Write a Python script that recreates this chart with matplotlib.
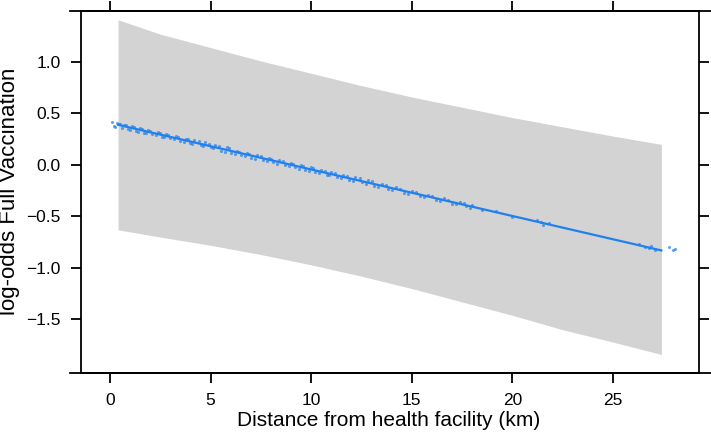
import matplotlib
matplotlib.use('Agg')
import matplotlib.pyplot as plt
from matplotlib.lines import Line2D

# effect of distance on log-odds of full vaccination
# fitted line
fit_x = [0.4, 27.4]
fit_y = [0.39, -0.83]

# confidence band
band_x = [0.4, 2.5, 5.0, 7.5, 10.0, 12.5, 15.0, 17.5, 20.0, 22.5, 25.0, 27.4]
band_upper = [1.41, 1.27, 1.14, 1.01, 0.89, 0.77, 0.66, 0.56, 0.46, 0.37, 0.28, 0.20]
band_lower = [-0.63, -0.70, -0.78, -0.87, -0.97, -1.08, -1.20, -1.33, -1.46,
              -1.60, -1.72, -1.84]

# partial residual points around the line
pt_x = [0.1, 0.2, 0.35, 0.5, 0.6, 0.8, 0.9, 1.1, 1.3, 1.5, 1.7, 1.9, 2.1, 2.4,
        2.6, 2.8, 3.0, 3.3, 3.5, 3.8, 4.0, 4.2, 4.5, 4.7, 5.0, 5.2, 5.5, 5.8,
        6.0, 6.3, 6.5, 6.8, 7.0, 7.3, 7.6, 7.9, 8.1, 8.4, 8.7, 9.0, 9.2, 9.5,
        9.7, 10.0, 10.2, 10.5, 10.8, 11.0, 11.3, 11.6, 11.9, 12.2, 12.5, 12.8,
        13.1, 13.5, 13.8, 14.2, 14.6, 15.0, 15.4, 15.8, 16.2, 16.6, 17.0, 17.4,
        17.7, 18.0, 18.5, 19.2, 20.0, 21.2, 21.5, 21.8, 26.3, 26.6, 26.9, 27.1,
        27.8, 28.1,
        0.25, 0.45, 0.7, 1.0, 1.2, 1.4, 1.6, 1.8, 2.0, 2.3, 2.5, 2.7, 2.9, 3.2,
        3.4, 3.7, 3.9, 4.1, 4.4, 4.6, 4.9, 5.1, 5.4, 5.7, 5.9, 6.2, 6.4, 6.7,
        6.9, 7.2, 7.5, 7.8, 8.0, 8.3, 8.6, 8.9, 9.1, 9.4, 9.6, 9.9, 10.1, 10.4,
        10.7, 10.9, 11.2, 11.5, 11.8, 12.1, 12.4, 12.7, 13.0, 13.3, 13.7, 14.0,
        14.4, 14.8, 15.2, 15.6, 16.0, 16.4, 16.8, 17.2, 17.6, 17.9, 21.4, 26.8,
        28.0]
pt_y = [0.42, 0.38, 0.41, 0.40, 0.36, 0.39, 0.35, 0.38, 0.33, 0.36, 0.31, 0.34,
        0.30, 0.32, 0.27, 0.30, 0.26, 0.28, 0.23, 0.25, 0.21, 0.24, 0.19, 0.22,
        0.17, 0.19, 0.14, 0.17, 0.12, 0.14, 0.10, 0.12, 0.07, 0.10, 0.05, 0.07,
        0.03, 0.05, 0.00, 0.02, -0.02, 0.00, -0.05, -0.02, -0.07, -0.05, -0.10,
        -0.07, -0.12, -0.10, -0.15, -0.12, -0.17, -0.15, -0.20, -0.18, -0.23,
        -0.21, -0.27, -0.25, -0.30, -0.29, -0.34, -0.32, -0.38, -0.36, -0.40,
        -0.39, -0.44, -0.45, -0.51, -0.53, -0.58, -0.56, -0.77, -0.80, -0.79,
        -0.83, -0.80, -0.82,
        0.37, 0.40, 0.39, 0.34, 0.37, 0.32, 0.35, 0.31, 0.33, 0.29, 0.31, 0.27,
        0.29, 0.25, 0.27, 0.22, 0.25, 0.20, 0.23, 0.18, 0.20, 0.16, 0.18, 0.13,
        0.16, 0.11, 0.13, 0.09, 0.11, 0.06, 0.09, 0.04, 0.06, 0.01, 0.04, -0.01,
        0.01, -0.04, -0.01, -0.06, -0.03, -0.08, -0.06, -0.10, -0.08, -0.13,
        -0.11, -0.16, -0.13, -0.18, -0.16, -0.21, -0.19, -0.24, -0.23, -0.28,
        -0.26, -0.31, -0.30, -0.35, -0.34, -0.38, -0.37, -0.42, -0.55, -0.81,
        -0.83]

xticks = [0, 5, 10, 15, 20, 25]
yticks = [-1.5, -1.0, -0.5, 0.0, 0.5, 1.0]

plt.close('all')
plt.rcParams.update({'font.family': ['Liberation Sans', 'DejaVu Sans']})

W, H = 711, 437
fig = plt.figure(figsize=(W/100, H/100), dpi=100)

#AXES BOX IN PIXELS: left 81, right 699, top 11, bottom 373
ax = fig.add_axes([81/W, 1-373/H, (699-81)/W, (373-11)/H])

blue = '#1f80ee'
ax.fill_between(band_x, band_lower, band_upper, color='#d3d3d3', lw=0, zorder=1)
ax.scatter(pt_x, pt_y, s=5, color=blue, alpha=0.7, lw=0, zorder=2)
ax.plot(fit_x, fit_y, color=blue, lw=1.6, zorder=3)

ax.set_xlim(-1.44, 29.27)
ax.set_ylim(-2.02, 1.495)

ax.set_xticks(xticks)
ax.set_xticklabels([str(t) for t in xticks], fontsize=12.5)
ax.set_yticks(yticks)
ax.set_yticklabels([('%.1f' % t).replace('-', '\u2212') for t in yticks],
                   fontsize=12.5)

ax.tick_params(axis='both', direction='out', length=7.5, width=1.3, pad=7,
               top=True, right=True, labeltop=False, labelright=False)

for s in ['top', 'bottom', 'left', 'right']:
    ax.spines[s].set_linewidth(1.3)

#TOP AND BOTTOM LINES RUN PAST THE BOX
for yy in [1-11/H, 1-373/H]:
    fig.add_artist(Line2D([70/W, 1.0], [yy, yy], color='black', lw=1.3,
                          transform=fig.transFigure))

fig.text(389/W, 1-420/H, 'Distance from health facility (km)', fontsize=15,
         ha='center', va='center')
fig.text(10/W, 1-191/H, 'log-odds Full Vaccination', fontsize=16,
         rotation=90, ha='center', va='center')

plt.savefig('out.png', dpi=100)
